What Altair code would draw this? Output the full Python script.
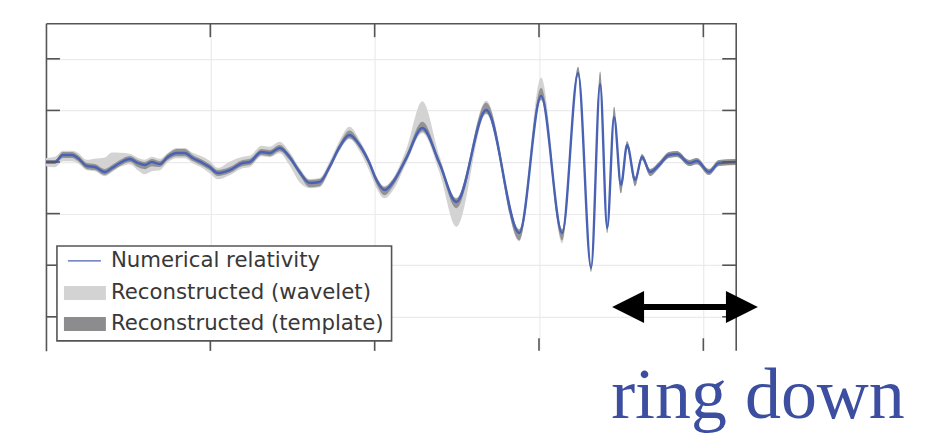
import altair as alt
import pandas as pd

# ---- data (arbitrary linear units: x grid every 100, y grid every 100)
t = [0, 5.5, 10.3, 15.8, 19.4, 24.9, 29.8, 35.8, 40.1, 45.0,
     51.0, 55.9, 60.1, 64.4, 69.3, 74.1, 79.6, 84.4, 89.3, 95.4,
     99.6, 104.5, 111.8, 119.7, 123.9, 131.2, 136.1, 142.2, 148.2, 154.3,
     160.4, 166.5, 172.5, 178.6, 184.7, 190.8, 196.8, 201.1, 206.0, 210.8,
     219.3, 229.0, 239.4, 249.7, 267.9, 288.0, 301.3, 314.1, 323.8, 331.7,
     337.2, 341.5, 345.7, 349.9, 353.6, 358.5, 362.7, 367.6, 373.0, 379.1,
     384.0, 391.3, 396.1, 403.4, 409.5, 419.8]
nr = [0, 0, 13.6, 13.6, 7.8, -7.8, -9.7, -19.4, -11.6, -1.9,
      5.8, -1.9, -5.8, 0, -3.9, 9.7, 17.4, 17.4, 7.8, -1.9,
      -9.7, -21.3, -15.5, -1.9, 0, 19.4, 17.4, 27.1, 9.7, -19.4,
      -40.7, -38.8, -9.7, 29.1, 52.3, 32.9, -1.9, -34.9, -54.3, -40.7,
      7.8, 65.9, -1.9, -77.5, 100.8, -137.6, 127.9, -137.6, 172.5, -205.4,
      151.2, -127.9, 87.2, -44.6, 32.9, -34.9, 9.7, -19.4, -5.8, 13.6,
      15.5, -1.9, 1.9, -19.4, -1.9, 0]
wav_up = [8, 10, 8, 8, 10, 12, 16, 28, 30, 20, 10, 10, 10, 10, 10, 8, 10, 10, 10, 12,
          12, 10, 16, 12, 12, 12, 12, 12, 10, 8, 8, 8, 10, 12, 16, 10, 8, 8, 8, 8,
          18, 52, 14, 8, 18, 8, 36, 8, 12, 6, 24, 6, 20, 6, 8, 6, 6, 6, 6, 6,
          6, 6, 6, 6, 6, 6]
wav_dn = [8, 10, 12, 12, 10, 8, 8, 8, 8, 8, 10, 14, 18, 18, 12, 10, 10, 10, 10, 10,
          12, 12, 10, 10, 10, 8, 8, 10, 16, 20, 10, 10, 8, 8, 8, 12, 16, 16, 16, 16,
          10, 10, 18, 48, 8, 16, 8, 20, 6, 6, 6, 10, 6, 16, 6, 12, 6, 8, 6, 6,
          6, 6, 6, 6, 6, 6]
tpl_up = [4, 4, 6, 6, 6, 6, 6, 6, 6, 6, 6, 6, 6, 6, 6, 6, 8, 8, 6, 6,
          6, 6, 6, 6, 6, 6, 6, 6, 6, 6, 6, 6, 6, 6, 9, 6, 6, 6, 6, 6,
          7, 12, 7, 7, 14, 7, 16, 7, 12, 6, 24, 6, 20, 6, 8, 6, 6, 6, 6, 6,
          6, 6, 6, 6, 6, 6]
tpl_dn = [4, 4, 6, 6, 6, 6, 6, 6, 6, 6, 6, 8, 8, 8, 6, 6, 6, 6, 6, 6,
          6, 6, 6, 6, 6, 6, 6, 6, 6, 6, 8, 8, 6, 6, 6, 6, 6, 8, 10, 8,
          7, 7, 7, 12, 7, 14, 7, 14, 6, 8, 6, 10, 6, 16, 6, 12, 6, 8, 6, 6,
          6, 6, 6, 6, 6, 6]

x_grid = [100, 200, 300, 400]
y_grid = [-300, -200, -100, 0, 100, 200]
X_DOMAIN = [0, 420]
Y_DOMAIN = [-366, 269]

ring_down = [344.5, 433.2]   # arrow tips
arrow_y = -281
label_pos = [343.9, -496]
legend_labels = ["Numerical relativity", "Reconstructed (wavelet)", "Reconstructed (template)"]

BLUE = "#4a62b3"
LIGHT = "#d3d3d3"
DARK = "#8c8c8e"
FRAME = "#555555"

df = pd.DataFrame({"t": t, "nr": nr})
df["w_lo"] = [v - d for v, d in zip(nr, wav_dn)]
df["w_hi"] = [v + u for v, u in zip(nr, wav_up)]
df["p_lo"] = [v - d for v, d in zip(nr, tpl_dn)]
df["p_hi"] = [v + u for v, u in zip(nr, tpl_up)]

xs = alt.Scale(domain=X_DOMAIN, nice=False, zero=False)
ys = alt.Scale(domain=Y_DOMAIN, nice=False, zero=False)
xaxis = alt.Axis(orient="top", values=x_grid, labels=False, ticks=False, title=None,
                 grid=True, gridColor="#ebebeb", gridWidth=1.2,
                 domain=True, domainColor=FRAME, domainWidth=1.6)
yaxis = alt.Axis(orient="left", values=y_grid, labels=False, ticks=False, title=None,
                 grid=True, gridColor="#ebebeb", gridWidth=1.2,
                 domain=True, domainColor=FRAME, domainWidth=1.6)


def X(f):
    return alt.X(f, type="quantitative", scale=xs, axis=xaxis)


def Y(f):
    return alt.Y(f, type="quantitative", scale=ys, axis=yaxis)


base = alt.Chart(df)
wavelet = base.mark_area(color=LIGHT, interpolate="monotone").encode(
    x=X("t"), y=Y("w_lo"), y2="w_hi")
template = base.mark_area(color=DARK, opacity=0.9, interpolate="monotone").encode(
    x=X("t"), y=Y("p_lo"), y2="p_hi")
line = base.mark_line(color=BLUE, strokeWidth=2.4, interpolate="monotone").encode(
    x=X("t"), y=Y("nr"))

# frame: right edge
right = alt.Chart(pd.DataFrame({"x": [X_DOMAIN[1]]})).mark_rule(
    color=FRAME, strokeWidth=1.6).encode(x=X("x"))

# inward ticks
xt_len = 14 * (X_DOMAIN[1] - X_DOMAIN[0]) / 691
yt_len = 14 * (Y_DOMAIN[1] - Y_DOMAIN[0]) / 328
ticks_df = pd.concat([
    pd.DataFrame({"x": [X_DOMAIN[0]] * len(y_grid), "x2": [X_DOMAIN[0] + xt_len] * len(y_grid),
                  "y": y_grid, "y2": y_grid}),
    pd.DataFrame({"x": [X_DOMAIN[1] - xt_len] * len(y_grid), "x2": [X_DOMAIN[1]] * len(y_grid),
                  "y": y_grid, "y2": y_grid}),
    pd.DataFrame({"x": x_grid, "x2": x_grid,
                  "y": [Y_DOMAIN[1]] * len(x_grid), "y2": [Y_DOMAIN[1] - yt_len] * len(x_grid)}),
    pd.DataFrame({"x": x_grid, "x2": x_grid,
                  "y": [Y_DOMAIN[0]] * len(x_grid), "y2": [Y_DOMAIN[0] + yt_len * 0.9] * len(x_grid)}),
])
ticks = alt.Chart(ticks_df).mark_rule(color=FRAME, strokeWidth=1.6).encode(
    x=X("x"), x2="x2", y=Y("y"), y2="y2")

# ring-down arrow
head_len = 32 * (X_DOMAIN[1] - X_DOMAIN[0]) / 691
shaft = alt.Chart(pd.DataFrame({"x": [ring_down[0] + head_len * 0.6],
                                "x2": [ring_down[1] - head_len * 0.6],
                                "y": [arrow_y]})).mark_rule(
    color="black", strokeWidth=6).encode(x=X("x"), x2="x2", y=Y("y"))
head_l = alt.Chart(pd.DataFrame({"x": [ring_down[0]], "y": [arrow_y]})).mark_point(
    shape="M0,0L2,-1L2,1Z", filled=True, size=1024, color="black", opacity=1).encode(
    x=X("x"), y=Y("y"))
head_r = alt.Chart(pd.DataFrame({"x": [ring_down[1]], "y": [arrow_y]})).mark_point(
    shape="M0,0L-2,-1L-2,1Z", filled=True, size=1024, color="black", opacity=1).encode(
    x=X("x"), y=Y("y"))
ring_text = alt.Chart(pd.DataFrame({"x": [label_pos[0]], "y": [label_pos[1]],
                                    "label": ["ring down"]})).mark_text(
    align="left", baseline="alphabetic", fontSize=72, font="Liberation Serif",
    color="#3c4ea0").encode(x=X("x"), y=Y("y"), text="label")

# legend (drawn by hand)
one = pd.DataFrame({"k": [0]})
leg_box = alt.Chart(one).mark_rect(fill="white", stroke=FRAME, strokeWidth=1.6).encode(
    x=alt.value(11), x2=alt.value(346), y=alt.value(223), y2=alt.value(318))
leg_line = alt.Chart(one).mark_rule(color=BLUE, strokeWidth=1.3).encode(
    x=alt.value(22), x2=alt.value(55), y=alt.value(238))
leg_w = alt.Chart(one).mark_rect(color=LIGHT).encode(
    x=alt.value(18), x2=alt.value(60), y=alt.value(263), y2=alt.value(277))
leg_t = alt.Chart(one).mark_rect(color=DARK).encode(
    x=alt.value(18), x2=alt.value(60), y=alt.value(294), y2=alt.value(308))
leg_texts = [
    alt.Chart(one).mark_text(align="left", baseline="middle", fontSize=21.3,
                             font="DejaVu Sans", color="#383838").encode(
        x=alt.value(65), y=alt.value(yy), text=alt.value(lab))
    for lab, yy in zip(legend_labels, [238, 270, 301])
]

chart = alt.layer(
    wavelet, template, line, right, ticks, leg_box, leg_line, leg_w, leg_t, *leg_texts,
    shaft, head_l, head_r, ring_text
).properties(
    width=691, height=328,
    padding={"left": 38, "top": 15, "right": 190, "bottom": 88},
    autosize=alt.AutoSizeParams(type="none"),
    background="white",
).configure_view(strokeWidth=0)

chart.save("out.html", embed_options={"renderer": "svg", "actions": False})
